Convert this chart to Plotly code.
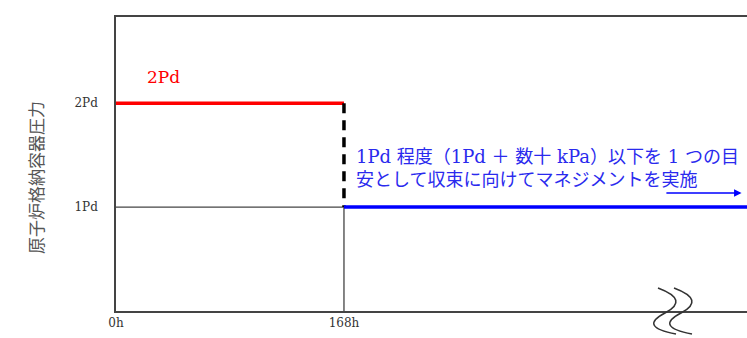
import plotly.graph_objects as go

# ---- data ----
time_h = [0, 168, 465]          # 0h, 168h, right edge of view
pressure_pd = [2, 1]            # 2Pd before 168h, 1Pd after
tick_x_vals = [0, 168]
tick_x_text = ["0h", "168h"]
tick_y_vals = [1, 2]
tick_y_text = ["1Pd", "2Pd"]
y_max = 2.83

SERIF = "DejaVu Serif, Noto Sans CJK JP, serif"

fig = go.Figure()

# thin gray reference lines
fig.add_trace(go.Scatter(x=[time_h[0], time_h[1]], y=[pressure_pd[1], pressure_pd[1]],
                         mode="lines", line=dict(color="#444", width=1.3), hoverinfo="skip"))
fig.add_trace(go.Scatter(x=[time_h[1], time_h[1]], y=[0, pressure_pd[1]],
                         mode="lines", line=dict(color="#444", width=1.3), hoverinfo="skip"))
# red 2Pd
fig.add_trace(go.Scatter(x=[time_h[0], time_h[1]], y=[pressure_pd[0], pressure_pd[0]],
                         mode="lines", line=dict(color="#ff0000", width=3.5), hoverinfo="skip"))
# dashed drop
fig.add_trace(go.Scatter(x=[time_h[1], time_h[1]], y=[pressure_pd[0], pressure_pd[1]],
                         mode="lines", line=dict(color="#000", width=3.5, dash="10px,7px"), hoverinfo="skip"))
# blue 1Pd
fig.add_trace(go.Scatter(x=[time_h[1], time_h[2]], y=[pressure_pd[1], pressure_pd[1]],
                         mode="lines", line=dict(color="#0000ff", width=3.5), hoverinfo="skip"))

annotations = [
    dict(x=21, y=2.25, xref="x", yref="y", text="2Pd", showarrow=False,
         xanchor="left", yanchor="middle", font=dict(family=SERIF, size=17, color="#ff0000")),
    dict(x=time_h[1], y=1.375, xref="x", yref="y", xshift=10, showarrow=False,
         text="1Pd 程度（1Pd ＋ 数十 kPa）以下を 1 つの目<br>安として収束に向けてマネジメントを実施",
         xanchor="left", yanchor="middle", align="left",
         font=dict(family=SERIF, size=18, color="#2a2aee")),
    dict(x=461, y=1.135, ax=404.5, ay=1.135, xref="x", yref="y", axref="x", ayref="y",
         text="", showarrow=True, arrowhead=2, arrowsize=1, arrowwidth=1.5, arrowcolor="#0000ff"),
    dict(x=(35 - 116) / 631, y=(311 - 178) / 294, xref="paper", yref="paper", text="原子炉格納容器圧力",
         showarrow=False, textangle=-90, xanchor="center", yanchor="middle",
         font=dict(family="Noto Sans CJK JP", size=17, color="#555")),
]

# break symbol (two S-curves crossing the time axis), in pixel offsets then to paper coords
def px2paper(X, Y):
    return (X - 116) / 631, (311 - Y) / 294

shapes = []
for dx in (0, 16):
    pts = [(658 + dx, 288), (690 + dx, 300), (665 + dx, 313), (638 + dx, 327), (676 + dx, 334)]
    p = [px2paper(*q) for q in pts]
    path = (f"M {p[0][0]},{p[0][1]} Q {p[1][0]},{p[1][1]} {p[2][0]},{p[2][1]} "
            f"Q {p[3][0]},{p[3][1]} {p[4][0]},{p[4][1]}")
    shapes.append(dict(type="path", path=path, xref="paper", yref="paper",
                       line=dict(color="#333", width=1.6)))

fig.update_layout(
    width=747, height=338,
    margin=dict(l=116, r=0, t=17, b=27),
    paper_bgcolor="white", plot_bgcolor="white",
    showlegend=False,
    annotations=annotations,
    shapes=shapes,
    xaxis=dict(range=[0, time_h[2]], tickvals=tick_x_vals, ticktext=tick_x_text,
               showgrid=False, zeroline=False, showline=True, mirror=True,
               linecolor="#444", linewidth=1.5, ticks="",
               tickfont=dict(family=SERIF, size=12, color="#333")),
    yaxis=dict(range=[0, y_max], tickvals=tick_y_vals, ticktext=tick_y_text,
               showgrid=False, zeroline=False, showline=True,
               linecolor="#444", linewidth=1.5, ticks="", ticklabelstandoff=14,
               tickfont=dict(family=SERIF, size=12, color="#333")),
)

fig.write_html("out.html", config={"displayModeBar": False},
               post_script="document.body.style.margin='0';")
